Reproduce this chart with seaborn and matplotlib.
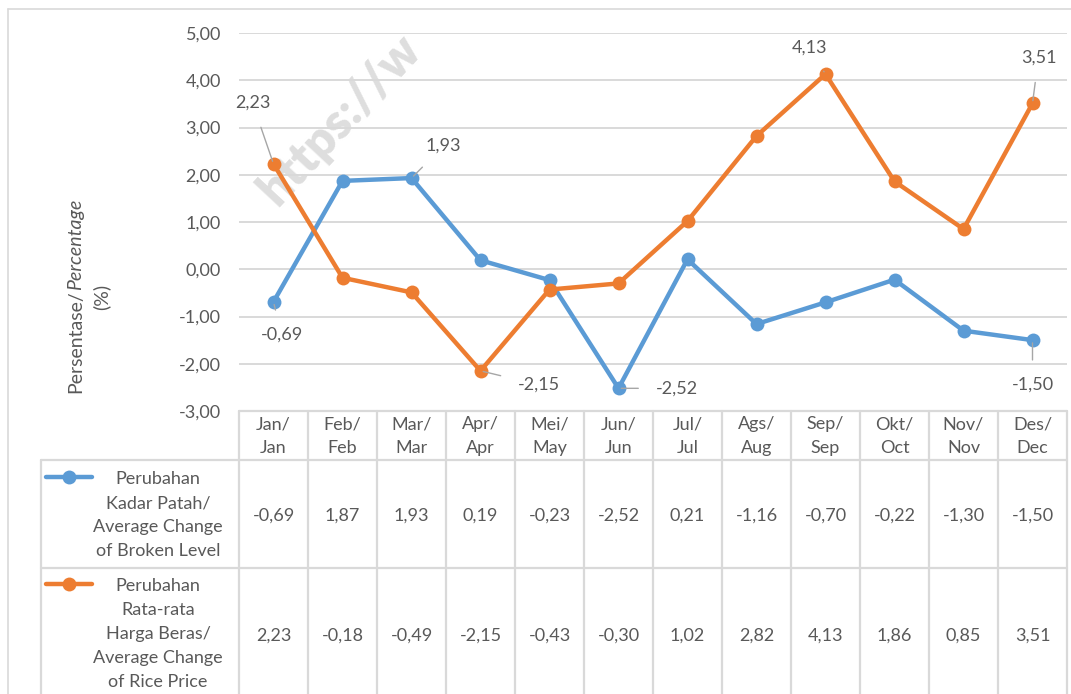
import numpy as np
import pandas as pd
import matplotlib
matplotlib.use("Agg")
import matplotlib.pyplot as plt
from matplotlib.lines import Line2D
import seaborn as sns

# ---------------- data ----------------
months_id = ["Jan", "Feb", "Mar", "Apr", "Mei", "Jun", "Jul", "Ags", "Sep", "Okt", "Nov", "Des"]
months_en = ["Jan", "Feb", "Mar", "Apr", "May", "Jun", "Jul", "Aug", "Sep", "Oct", "Nov", "Dec"]
broken_level = [-0.69, 1.87, 1.93, 0.19, -0.23, -2.52, 0.21, -1.16, -0.70, -0.22, -1.30, -1.50]
rice_price = [2.23, -0.18, -0.49, -2.15, -0.43, -0.30, 1.02, 2.82, 4.13, 1.86, 0.85, 3.51]
series_names = [
    "Perubahan\nKadar Patah/\nAverage Change\nof Broken Level",
    "Perubahan\nRata-rata\nHarga Beras/\nAverage Change\nof Rice Price",
]
y_ticks = [-3, -2, -1, 0, 1, 2, 3, 4, 5]

# ---------------- style ----------------
sns.set_theme(style="white")
plt.rcParams["font.family"] = ["Lato", "DejaVu Sans"]
TXT = "#595959"
GRID = "#D9D9D9"
colors = ["#5B9BD5", "#ED7D31"]
FS = 13
LS = 1.6

W, H = 1071, 694
fig = plt.figure(figsize=(W / 100, H / 100), dpi=100)
fig.patch.set_facecolor("white")


def fmt(v):
    return f"{v:.2f}".replace(".", ",")


# overlay axes in pixel space for the table / frame
tab = fig.add_axes([0, 0, 1, 1], zorder=0)
tab.set_xlim(0, W)
tab.set_ylim(H, 0)
tab.axis("off")

# plot axes
PL, PR, PT, PB = 239, 1067, 33, 411
ax = fig.add_axes([PL / W, 1 - PB / H, (PR - PL) / W, (PB - PT) / H], zorder=1)
ax.patch.set_alpha(0)

df = pd.DataFrame({
    "x": list(range(12)) * 2,
    "value": broken_level + rice_price,
    "series": ["broken"] * 12 + ["price"] * 12,
})
sns.lineplot(data=df, x="x", y="value", hue="series", palette=colors,
             marker="o", markersize=10, markeredgewidth=0, linewidth=3.2,
             legend=False, ax=ax, zorder=3)

ax.set_xlim(-0.5, 11.5)
ax.set_ylim(-3, 5)
ax.set_yticks(y_ticks)
ax.set_yticklabels([fmt(v) for v in y_ticks], color=TXT, fontsize=FS)
ax.set_xticks([])
ax.set_xlabel("")
ax.set_ylabel("")
ax.tick_params(axis="y", length=0, pad=13)
ax.grid(axis="y", color=GRID, linewidth=1.4)
ax.grid(axis="x", visible=False)
for s in ax.spines.values():
    s.set_visible(False)

# data labels (series, index, offset in pixels)
label_specs = [
    (rice_price, 0, (-21, 61)),
    (rice_price, 8, (-16, 26)),
    (rice_price, 11, (6, 46)),
    (rice_price, 3, (58, -14)),
    (broken_level, 2, (32, 32)),
    (broken_level, 0, (8, -33)),
    (broken_level, 5, (58, 0)),
    (broken_level, 11, (0, -45)),
]
for arr, i, off in label_specs:
    ax.annotate(fmt(arr[i]), xy=(i, arr[i]), xytext=off, textcoords="offset pixels",
                ha="center", va="center", fontsize=FS, color=TXT, zorder=5,
                arrowprops=dict(arrowstyle="-", color="#A6A6A6", lw=1,
                                shrinkA=10, shrinkB=2))

# ---------------- frame ----------------
tab.add_line(Line2D([8, 8], [9, H], color=GRID, lw=1.2))
tab.add_line(Line2D([8, W], [9, 9], color=GRID, lw=1.2))

# watermark
tab.text(278, 208, "https://w", rotation=47, rotation_mode="anchor", ha="left",
         va="baseline", fontsize=35, fontweight="heavy", color="#DEDEDE", zorder=0)

# ---------------- data table ----------------
CW = (PR - PL) / 12
LX = 41
R0, R1, R2 = PB, 460, 568
TL = dict(color=GRID, lw=1.6)
tab.add_line(Line2D([PL, PR], [R0, R0], **TL))
tab.add_line(Line2D([LX, PR], [R1, R1], **TL))
tab.add_line(Line2D([LX, PR], [R2, R2], **TL))
tab.add_line(Line2D([LX, LX], [R1, H], **TL))
for k in range(13):
    xk = PL + k * CW
    tab.add_line(Line2D([xk, xk], [R0, H], **TL))

for i in range(12):
    cx = PL + (i + 0.5) * CW
    tab.text(cx, 436, f"{months_id[i]}/\n{months_en[i]}", ha="center", va="center",
             fontsize=FS, color=TXT, linespacing=LS)
    tab.text(cx, 516, fmt(broken_level[i]), ha="center", va="center", fontsize=FS, color=TXT)
    tab.text(cx, 636, fmt(rice_price[i]), ha="center", va="center", fontsize=FS, color=TXT)

# legend keys + series names
for name, col, ycen, ymark in [(series_names[0], colors[0], 515, 477),
                               (series_names[1], colors[1], 634, 584)]:
    tab.add_line(Line2D([46, 92], [ymark, ymark], color=col, lw=3.2, solid_capstyle="round"))
    tab.add_line(Line2D([69], [ymark], color=col, marker="o", markersize=10, markeredgewidth=0))
    tab.text(158, ycen, name, ha="center", va="center", fontsize=FS, color=TXT, linespacing=LS)

# ---------------- y label ----------------
fig.canvas.draw()
r = fig.canvas.get_renderer()
t1 = tab.text(76, 393, "Persentase/", rotation=90, ha="center", va="bottom",
              fontsize=14, color=TXT)
bb = t1.get_window_extent(r)
top_px = H - bb.y1
tab.text(76, top_px, "Percentage", rotation=90, ha="center", va="bottom",
         fontsize=14, color=TXT, style="italic")
tab.text(101, 297, "(%)", rotation=90, ha="center", va="center", fontsize=14, color=TXT)

fig.savefig("out.png", dpi=100, facecolor="white")
